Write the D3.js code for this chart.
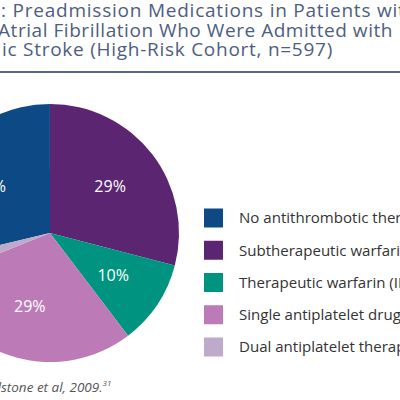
<!DOCTYPE html>
<html>
<head>
<meta charset="utf-8">
<script src="https://cdn.jsdelivr.net/npm/d3@7/dist/d3.min.js"></script>
<style>
  html, body { margin: 0; padding: 0; background: #fff; }
  svg { display: block; }
</style>
</head>
<body>
<script>
// ---- data ----
const categories = [
  "No antithrombotic therapy",
  "Subtherapeutic warfarin (INR <2)",
  "Therapeutic warfarin (INR \u22652)",
  "Single antiplatelet drug",
  "Dual antiplatelet therapy"
];
const values = [28.8, 29.1, 10.6, 29.3, 2.3];
const sliceLabels = ["29%", "29%", "10%", "29%", ""];
const colors = ["#0d4a85", "#5b2571", "#00937f", "#bc7bb6", "#beaacb"];
const titleLines = [
  ["Figure 1", ": Preadmission Medications in Patients with"],
  ["", "Atrial Fibrillation Who Were Admitted with"],
  ["Ischaem", "ic Stroke (High-Risk Cohort, n=597)"]
];
// visible portions used to fit spacing to the reference
const titleVisible = [
  ": Preadmission Medications in Patients wi",
  "Atrial Fibrillation Who Were Admitted with",
  "ic Stroke (High-Risk Cohort, n=597)"
];
const sourcePrefix = "Source: Glad";
const sourceText = "stone et al, 2009.";
const sourceRef = "31";

// ---- layout ----
const W = 400, H = 400;
const svg = d3.select("body").append("svg").attr("width", W).attr("height", H);

const FONT = "'Open Sans', 'Noto Sans', sans-serif";

function measure(txt, size, ls) {
  const t = svg.append("text").attr("font-family", FONT).attr("font-size", size)
    .attr("letter-spacing", ls || 0).text(txt);
  const w = t.node().getComputedTextLength();
  t.remove();
  return w;
}

// Title
const titleColor = "#4e5d80";
const titleX = [1, -2, 2];
const titleY = [17, 37, 56];
const titleTargets = [397, 395, 331];
const titleSize = 19;
titleLines.forEach((ln, i) => {
  const w = measure(titleVisible[i], titleSize, 0);
  const ls = (titleTargets[i] - w) / titleVisible[i].length;
  if (ln[0]) {
    svg.append("text").attr("x", titleX[i] - ls).attr("y", titleY[i])
      .attr("text-anchor", "end").attr("font-family", FONT)
      .attr("letter-spacing", ls)
      .attr("font-size", titleSize).attr("fill", titleColor).text(ln[0]);
  }
  svg.append("text").attr("x", titleX[i]).attr("y", titleY[i])
    .attr("font-family", FONT).attr("font-size", titleSize)
    .attr("letter-spacing", ls)
    .attr("fill", titleColor).text(ln[1]);
});
svg.append("line").attr("x1", 0).attr("x2", W).attr("y1", 72).attr("y2", 72)
  .attr("stroke", "#56658a").attr("stroke-width", 2);

// Pie
const cx = 50, cy = 233, R = 129;
const startDeg = -103.6;
const pie = d3.pie().sort(null).value(d => d)
  .startAngle(startDeg * Math.PI / 180)
  .endAngle((startDeg + 360) * Math.PI / 180);
const arcs = pie(values);
const arc = d3.arc().innerRadius(0).outerRadius(R);
const labelArc = d3.arc().innerRadius(76).outerRadius(76);
const g = svg.append("g").attr("transform", `translate(${cx},${cy})`);
g.selectAll("path.slice").data(arcs).enter().append("path")
  .attr("class", "slice").attr("d", arc).attr("fill", (d, i) => colors[i]);
g.selectAll("text.lbl").data(arcs).enter().append("text")
  .attr("class", "lbl")
  .attr("transform", d => `translate(${labelArc.centroid(d)})`)
  .attr("text-anchor", "middle").attr("dy", "0.35em")
  .attr("font-family", FONT).attr("font-size", 16).attr("fill", "#fff")
  .text((d, i) => sliceLabels[i]);

// Legend
const legY = d3.scalePoint().domain(categories).range([218, 347]);
const legSize = 20 * 161 / measure("Subtherapeutic warfari", 20, 0);
const leg = svg.append("g");
categories.forEach((c, i) => {
  const y = legY(c);
  leg.append("rect").attr("x", 204).attr("y", y - 9.5).attr("width", 19).attr("height", 19)
    .attr("fill", colors[i]);
  leg.append("text").attr("x", 239).attr("y", y).attr("dy", "0.35em")
    .attr("font-family", FONT).attr("font-size", legSize).attr("fill", "#333")
    .text(c);
});

// Source
svg.append("text").attr("x", 1).attr("y", 392).attr("text-anchor", "end")
  .attr("font-family", FONT).attr("font-style", "italic").attr("font-size", 13.5)
  .attr("fill", "#555").text(sourcePrefix);
const src = svg.append("text").attr("x", 1).attr("y", 392)
  .attr("font-family", FONT).attr("font-style", "italic").attr("font-size", 13.5)
  .attr("fill", "#555");
src.append("tspan").text(sourceText);
src.append("tspan").attr("dy", -6).attr("font-size", 8).text(sourceRef);
</script>
</body>
</html>
